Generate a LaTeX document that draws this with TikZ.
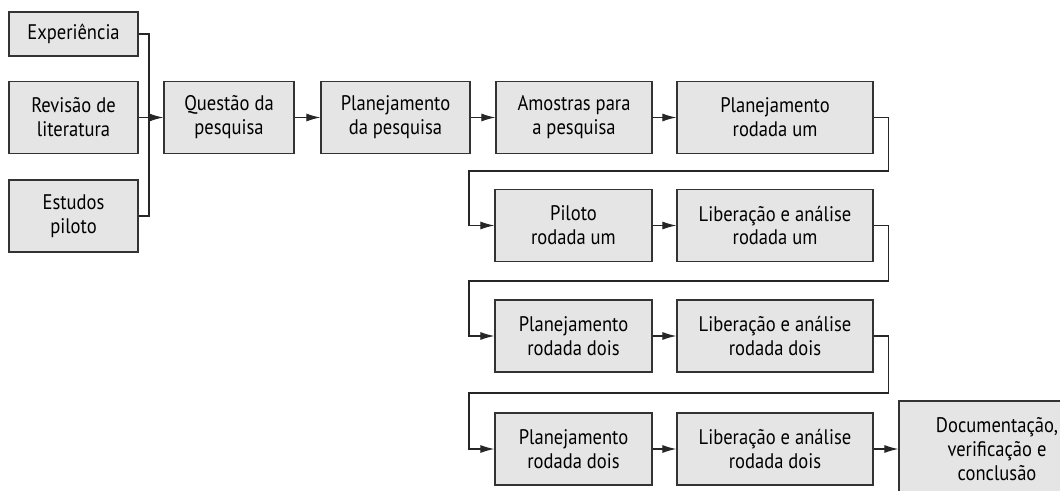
\documentclass[tikz,border=0pt]{standalone}
\usepackage{fontspec}
\setmainfont{PT Sans}[FakeStretch=0.88]
\usetikzlibrary{arrows.meta}

\begin{document}
\begin{tikzpicture}[x=0.02cm, y=-0.02cm]
				\tikzstyle{caixa}=[draw=black!80, fill=black!10, line width=0.7pt, align=center, inner sep=0pt, minimum height=72*0.02cm, font=\fontsize{12}{13.6}\selectfont]
				\tikzstyle{liga}=[draw=black!85, line width=0.7pt]
				\tikzstyle{seta}=[liga, -{Latex[length=8pt, width=4.6pt]}]

				\useasboundingbox (0,0) rectangle (1060,490);
				\clip (0,0) rectangle (1060,490);

				\node [caixa, minimum width=129*0.02cm, minimum height=44*0.02cm] (exp) at (73.5,34) {Experiência};
				\node [caixa, minimum width=129*0.02cm] (rev) at (73.5,117.5) {Revisão de\\literatura};
				\node [caixa, minimum width=129*0.02cm] (est) at (73.5,216) {Estudos\\piloto};
				\node [caixa, minimum width=130*0.02cm] (quest) at (229,117.5) {Questão da\\pesquisa};
				\node [caixa, minimum width=149*0.02cm] (planpesq) at (395.5,117.5) {Planejamento\\da pesquisa};
				\node [caixa, minimum width=156*0.02cm] (amost) at (574,117.5) {Amostras para\\a pesquisa};
				\node [caixa, minimum width=196*0.02cm] (planum) at (775,117.5) {Planejamento\\rodada um};

				\node [caixa, minimum width=157*0.02cm] (pilum) at (573.5,225.5) {Piloto\\rodada um};
				\node [caixa, minimum width=196*0.02cm] (libum) at (775,225.5) {Liberação e análise\\rodada um};

				\node [caixa, minimum width=157*0.02cm] (plandois) at (573.5,336) {Planejamento\\rodada dois};
				\node [caixa, minimum width=196*0.02cm] (libdois) at (775,336) {Liberação e análise\\rodada dois};

				\node [caixa, minimum width=157*0.02cm] (plandoisb) at (573.5,449) {Planejamento\\rodada dois};
				\node [caixa, minimum width=196*0.02cm] (libdoisb) at (775,449) {Liberação e análise\\rodada dois};
				\node [caixa, minimum width=196*0.02cm, minimum height=96*0.02cm] (doc) at (997,449) {Documentação,\\verificação e\\conclusão};

				\coordinate (junta) at (149,117.5);
				\coordinate (volta1) at (469,171);
				\coordinate (volta2) at (469,281);
				\coordinate (volta3) at (469,393);

				\draw [liga] (exp.east) -| (junta) |- (est.east);
				\draw [seta] (rev.east) -- (quest.west);
				\draw [seta] (quest) -- (planpesq);
				\draw [seta] (planpesq) -- (amost);
				\draw [seta] (amost) -- (planum);
				\draw [seta] (planum.east) -- ++(15,0) |- (volta1) |- (pilum.west);
				\draw [seta] (pilum) -- (libum);
				\draw [seta] (libum.east) -- ++(15,0) |- (volta2) |- (plandois.west);
				\draw [seta] (plandois) -- (libdois);
				\draw [seta] (libdois.east) -- ++(15,0) |- (volta3) |- (plandoisb.west);
				\draw [seta] (plandoisb) -- (libdoisb);
				\draw [seta] (libdoisb) -- (doc);
			\end{tikzpicture}
\end{document}
